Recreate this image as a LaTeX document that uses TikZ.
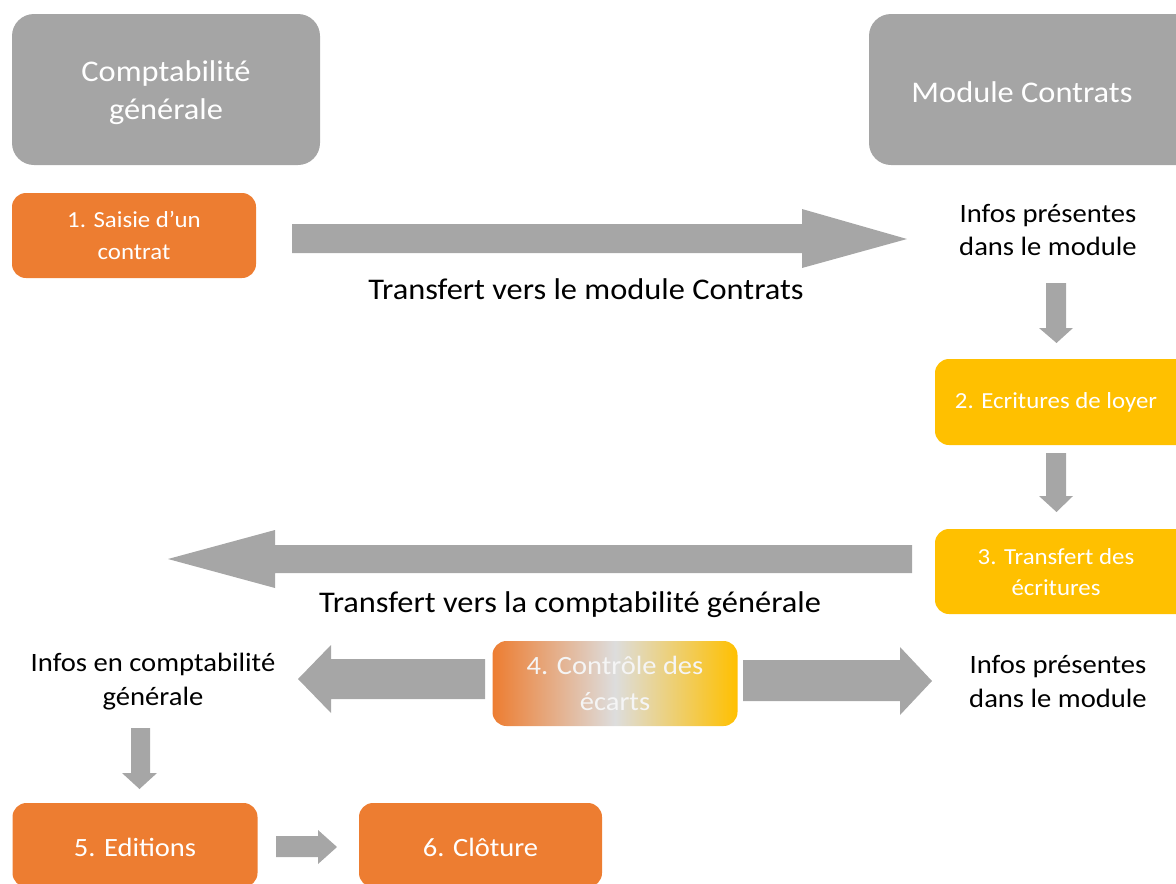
\documentclass[tikz,border=0pt]{standalone}
\usepackage{fontspec}
\setmainfont{Carlito}[FakeStretch=1.08]
\definecolor{boxgray}{HTML}{A5A5A5}
\definecolor{arrgray}{HTML}{A6A6A6}
\definecolor{orng}{HTML}{ED7D31}
\definecolor{yllw}{HTML}{FFC000}
\definecolor{midgray}{HTML}{DDDDDD}
\tikzset{
  rbox/.style={rounded corners=14pt, inner sep=0pt, align=center, text=white},
  headbox/.style={rbox, fill=boxgray, rounded corners=22pt, font=\fontsize{30}{38}\selectfont},
  orbox/.style={rbox, fill=orng},
  ylbox/.style={rbox, fill=yllw},
  lbl/.style={align=center, text=black},
  blk/.style={fill=arrgray, draw=none}
}
\begin{document}
\begin{tikzpicture}[x=1pt,y=-1pt]
\useasboundingbox (0,0) rectangle (1176,884);
\clip (0,0) rectangle (1176,884);
% header boxes
\node[headbox, minimum width=308pt, minimum height=151pt] (cg) at (166,89.5) {};
\node[text=white, align=center, font=\fontsize{30}{38}\selectfont] (cgt) at (166,93) {Comptabilité\\générale};
\node[headbox, minimum width=330pt, minimum height=151pt] (mc) at (1034,89.5) {};
\node[text=white, font=\fontsize{30}{38}\selectfont] (mct) at (1022,92) {Module Contrats};
% step boxes
\node[orbox, minimum width=244pt, minimum height=85pt, font=\fontsize{23}{32}\selectfont] (s1) at (134,235.5) {1. Saisie d’un\\contrat};
\node[ylbox, minimum width=260pt, minimum height=86pt] (s2) at (1065,402) {};
\node[text=white, font=\fontsize{23}{28}\selectfont] (s2t) at (1056,402) {2. Ecritures de loyer};
\node[ylbox, minimum width=260pt, minimum height=85pt] (s3) at (1065,571.5) {};
\node[text=white, align=center, font=\fontsize{23}{31}\selectfont] (s3t) at (1056,572) {3. Transfert des\\écritures};
\node[rbox, left color=orng, right color=yllw, middle color=midgray, minimum width=245pt, minimum height=85pt, font=\fontsize{26.4}{36}\selectfont, text=white!96!black] (s4) at (615,683.5) {4. Contrôle des\\écarts};
\node[orbox, minimum width=245pt, minimum height=84pt] (s5) at (135,845) {};
\node[text=white, font=\fontsize{26.4}{30}\selectfont] (s5t) at (135,847) {5. Editions};
\node[orbox, minimum width=243pt, minimum height=84pt] (s6) at (480.5,845) {};
\node[text=white, font=\fontsize{26.4}{30}\selectfont] (s6t) at (480.5,847) {6. Clôture};
% labels
\node[lbl, font=\fontsize{26.5}{33}\selectfont] (inf1) at (1048,230) {Infos présentes\\dans le module};
\node[lbl, font=\fontsize{26.5}{34}\selectfont] (inf2) at (1058,682) {Infos présentes\\dans le module};
\node[lbl, font=\fontsize{26.5}{34}\selectfont] (inf3) at (153,682) {Infos en comptabilité\\générale};
\node[lbl, font=\fontsize{30}{34}\selectfont] (t1) at (586,289) {Transfert vers le module Contrats};
\node[lbl, font=\fontsize{30}{34}\selectfont] (t2) at (570,605) {Transfert vers la comptabilité générale};
% block arrows
\fill[blk] (292,224)--(802,224)--(802,209)--(907,239)--(802,268)--(802,253)--(292,253)--cycle;
\fill[blk] (1046,283)--(1066,283)--(1066,328)--(1073,328)--(1056.5,343)--(1039,328)--(1046,328)--cycle;
\fill[blk] (1046,453)--(1066,453)--(1066,496)--(1073,496)--(1056.5,512)--(1039,496)--(1046,496)--cycle;
\fill[blk] (912,545)--(275,545)--(275,530)--(168,559)--(275,588)--(275,573)--(912,573)--cycle;
\fill[blk] (485,659)--(331,659)--(331,645)--(298,679)--(331,713)--(331,699)--(485,699)--cycle;
\fill[blk] (743,660)--(900,660)--(900,647)--(932,681)--(900,715)--(900,701)--(743,701)--cycle;
\fill[blk] (131,728)--(150,728)--(150,773)--(157,773)--(139.5,789)--(122,773)--(131,773)--cycle;
\fill[blk] (276,836)--(318,836)--(318,830)--(337,847)--(318,864)--(318,857)--(276,857)--cycle;
\end{tikzpicture}
\end{document}
